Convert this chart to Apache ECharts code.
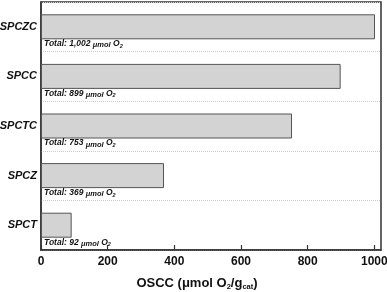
<!DOCTYPE html>
<html><head><meta charset="utf-8">
<script src="https://cdn.jsdelivr.net/npm/echarts@6/dist/echarts.min.js"></script>
<style>html,body{margin:0;padding:0;background:#fff}#c{width:387px;height:292px}</style>
</head><body><div id="c"></div>
<script>
var categories = ['SPCZC', 'SPCC', 'SPCTC', 'SPCZ', 'SPCT'];
var values = [1002, 899, 753, 369, 92];
var xTicks = [0, 200, 400, 600, 800, 1000];

var chart = echarts.init(document.getElementById('c'));
var F = 'Liberation Sans, Arial, sans-serif';
chart.setOption({
  animation: false,
  grid: { left: 41, right: 6, top: 2, bottom: 42, show: true, borderColor: '#333', borderWidth: 1.5, backgroundColor: 'transparent', containLabel: false, outerBoundsMode: 'none' },
  xAxis: {
    type: 'value', min: 0, max: 1020, interval: 200,
    name: 'OSCC (μmol O{s|2}/g{s|cat})', nameLocation: 'middle', nameGap: 25,
    nameTextStyle: { fontFamily: F, fontWeight: 'bold', fontSize: 13, color: '#111', padding: [0, 28, 0, 0],
      rich: { s: { fontFamily: F, fontWeight: 'bold', fontSize: 7.5, color: '#111', verticalAlign: 'bottom', padding: [8, 0, 0, 0] } } },
    axisLine: { show: true, lineStyle: { color: '#333', width: 1.5 } },
    axisTick: { show: true, inside: true, length: 5, lineStyle: { color: '#333', width: 1.2 } },
    axisLabel: { fontFamily: F, fontWeight: 'bold', fontSize: 12, color: '#111', margin: 6, showMaxLabel: false,
      formatter: function (v) { return xTicks.indexOf(v) >= 0 ? String(v) : ''; } },
    splitLine: { show: false }
  },
  yAxis: {
    type: 'category', data: categories, inverse: true,
    axisLine: { show: true, lineStyle: { color: '#333', width: 1.5 } },
    axisTick: { show: false },
    axisLabel: { fontFamily: F, fontWeight: 'bold', fontStyle: 'italic', fontSize: 11, color: '#111', margin: 4 },
    splitLine: { show: true, lineStyle: { color: '#ccc', type: 'dotted', width: 1 } }
  },
  series: [{
    type: 'bar', data: values, barWidth: 25,
    itemStyle: { color: '#d3d3d3', borderColor: '#555', borderWidth: 1 },
    label: {
      show: true, position: [3, 29.5], align: 'left', verticalAlign: 'middle',
      fontFamily: F, fontWeight: 'bold', fontStyle: 'italic', fontSize: 8.5, color: '#111',
      formatter: function (p) { return 'Total: ' + p.value.toLocaleString('en-US') + ' {u|μmol} O{s|2}'; },
      rich: {
        u: { fontFamily: F, fontStyle: 'italic', fontSize: 7.5, color: '#111', verticalAlign: 'bottom', padding: [1, 0, 0, 0] },
        s: { fontFamily: F, fontWeight: 'bold', fontSize: 5.5, color: '#111', verticalAlign: 'bottom', padding: [5, 0, 0, 0] }
      }
    }
  }]
});
</script></body></html>
